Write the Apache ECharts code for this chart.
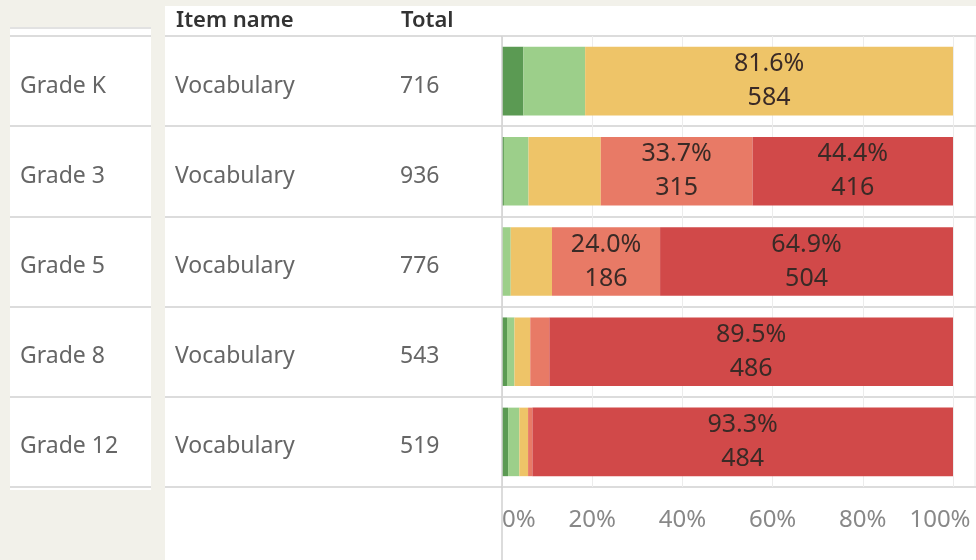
<!DOCTYPE html>
<html>
<head>
<meta charset="utf-8">
<script src="https://cdn.jsdelivr.net/npm/echarts@6/dist/echarts.min.js"></script>
<style>
  html, body { margin: 0; padding: 0; background: #f2f1ea; }
  #chart { width: 976px; height: 560px; }
</style>
</head>
<body>
<div id="chart"></div>
<script>
// 数据
const grades = ['Grade K', 'Grade 3', 'Grade 5', 'Grade 8', 'Grade 12'];
const itemNames = ['Vocabulary', 'Vocabulary', 'Vocabulary', 'Vocabulary', 'Vocabulary'];
const totals = [716, 936, 776, 543, 519];
const darkGreen = [34, 4, 0, 6, 7];
const lightGreen = [98, 51, 15, 9, 13];
const yellow = [584, 150, 71, 19, 10];
const salmon = [0, 315, 186, 23, 5];
const red = [0, 416, 504, 486, 484];
const xTicks = [0, 20, 40, 60, 80, 100];

const FONT = 'Noto Sans';
const TOP = 36, BOTTOM = 73;
const AXIS_X = 502, RIGHT = 23;

const segments = [
    { name: 'Level 1', data: darkGreen, color: '#5b9a53' },
    { name: 'Level 2', data: lightGreen, color: '#9ccf8a' },
    { name: 'Level 3', data: yellow, color: '#eec468' },
    { name: 'Level 4', data: salmon, color: '#e87a66' },
    { name: 'Level 5', data: red, color: '#d14949' }
];

const chart = echarts.init(document.getElementById('chart'));

// 堆叠百分比条
const barSeries = segments.map(seg => ({
    name: seg.name,
    type: 'bar',
    stack: 'total',
    xAxisIndex: 0,
    yAxisIndex: 0,
    barWidth: '76%',
    itemStyle: { color: seg.color },
    label: {
        show: true,
        position: 'inside',
        fontFamily: FONT,
        fontSize: 25,
        lineHeight: 34,
        color: '#3a2a26',
        formatter: (p) => {
            const count = seg.data[p.dataIndex];
            const pct = count / totals[p.dataIndex] * 100;
            if (pct < 20) return '';
            return pct.toFixed(1) + '%\n' + count;
        }
    },
    data: seg.data.map((v, i) => v / totals[i] * 100)
}));

const rowLine = { show: true, lineStyle: { color: '#dcdcdc', width: 2 } };

// 表格列文字
function tableLabel(margin) {
    return {
        inside: true,
        margin: margin,
        align: 'left',
        formatter: (v) => '{t|' + v + '}',
        rich: {
            t: { fontFamily: FONT, fontSize: 23, color: '#666', padding: [10, 0, 0, 0] }
        }
    };
}

const option = {
    backgroundColor: '#f2f1ea',
    animation: false,
    title: [
        { text: 'Item name', left: 171, top: 5, textStyle: { fontFamily: FONT, fontSize: 22, fontWeight: 600, color: '#333' } },
        { text: 'Total', left: 396, top: 5, textStyle: { fontFamily: FONT, fontSize: 22, fontWeight: 600, color: '#333' } }
    ],
    graphic: [
        { type: 'rect', z: -10, shape: { x: 10, y: 27, width: 141, height: 463 }, style: { fill: '#fff' } },
        { type: 'line', z: -9, shape: { x1: 10, y1: 28, x2: 151, y2: 28 }, style: { stroke: '#e2e2e2', lineWidth: 2 } },
        { type: 'rect', z: -10, shape: { x: 165, y: 6, width: 811, height: 554 }, style: { fill: '#fff' } },
        { type: 'line', z: 5, shape: { x1: AXIS_X, y1: TOP, x2: AXIS_X, y2: 560 }, style: { stroke: '#d0d0d0', lineWidth: 1.5 } },
        { type: 'line', z: -9, shape: { x1: 975, y1: TOP, x2: 975, y2: 560 - BOTTOM }, style: { stroke: '#ececec', lineWidth: 1 } }
    ],
    grid: [
        { left: AXIS_X, right: RIGHT, top: TOP, bottom: BOTTOM },
        { left: 165, right: 0, top: TOP, bottom: BOTTOM },
        { left: 10, width: 141, top: TOP, bottom: BOTTOM }
    ],
    xAxis: [
        {
            gridIndex: 0,
            type: 'value',
            min: 0,
            max: 100,
            interval: 20,
            axisLine: { show: false },
            axisTick: { show: false },
            splitLine: { show: true, lineStyle: { color: '#ececec', width: 1 } },
            axisLabel: {
                fontFamily: FONT,
                fontSize: 24,
                color: '#888',
                margin: 21,
                alignMinLabel: 'left',
                formatter: (v) => v === 100 ? '{last|' + v + '%}' : v + '%',
                rich: {
                    last: { fontFamily: FONT, fontSize: 24, color: '#888', padding: [0, 26, 0, 0] }
                }
            }
        },
        { gridIndex: 1, type: 'value', show: false },
        { gridIndex: 2, type: 'value', show: false }
    ],
    yAxis: [
        {
            gridIndex: 0,
            type: 'category',
            inverse: true,
            data: grades,
            axisLine: { show: false },
            axisTick: { show: false },
            axisLabel: { show: false }
        },
        {
            gridIndex: 1,
            type: 'category',
            position: 'left',
            inverse: true,
            data: itemNames,
            axisLine: { show: false },
            axisTick: { show: false },
            splitLine: rowLine,
            axisLabel: tableLabel(10)
        },
        {
            gridIndex: 1,
            type: 'category',
            position: 'left',
            offset: 0,
            inverse: true,
            data: totals.map(String),
            axisLine: { show: false },
            axisTick: { show: false },
            axisLabel: tableLabel(235)
        },
        {
            gridIndex: 2,
            type: 'category',
            position: 'left',
            inverse: true,
            data: grades,
            axisLine: { show: false },
            axisTick: { show: false },
            splitLine: rowLine,
            axisLabel: tableLabel(10)
        }
    ],
    series: barSeries
};

chart.setOption(option);
</script>
</body>
</html>
